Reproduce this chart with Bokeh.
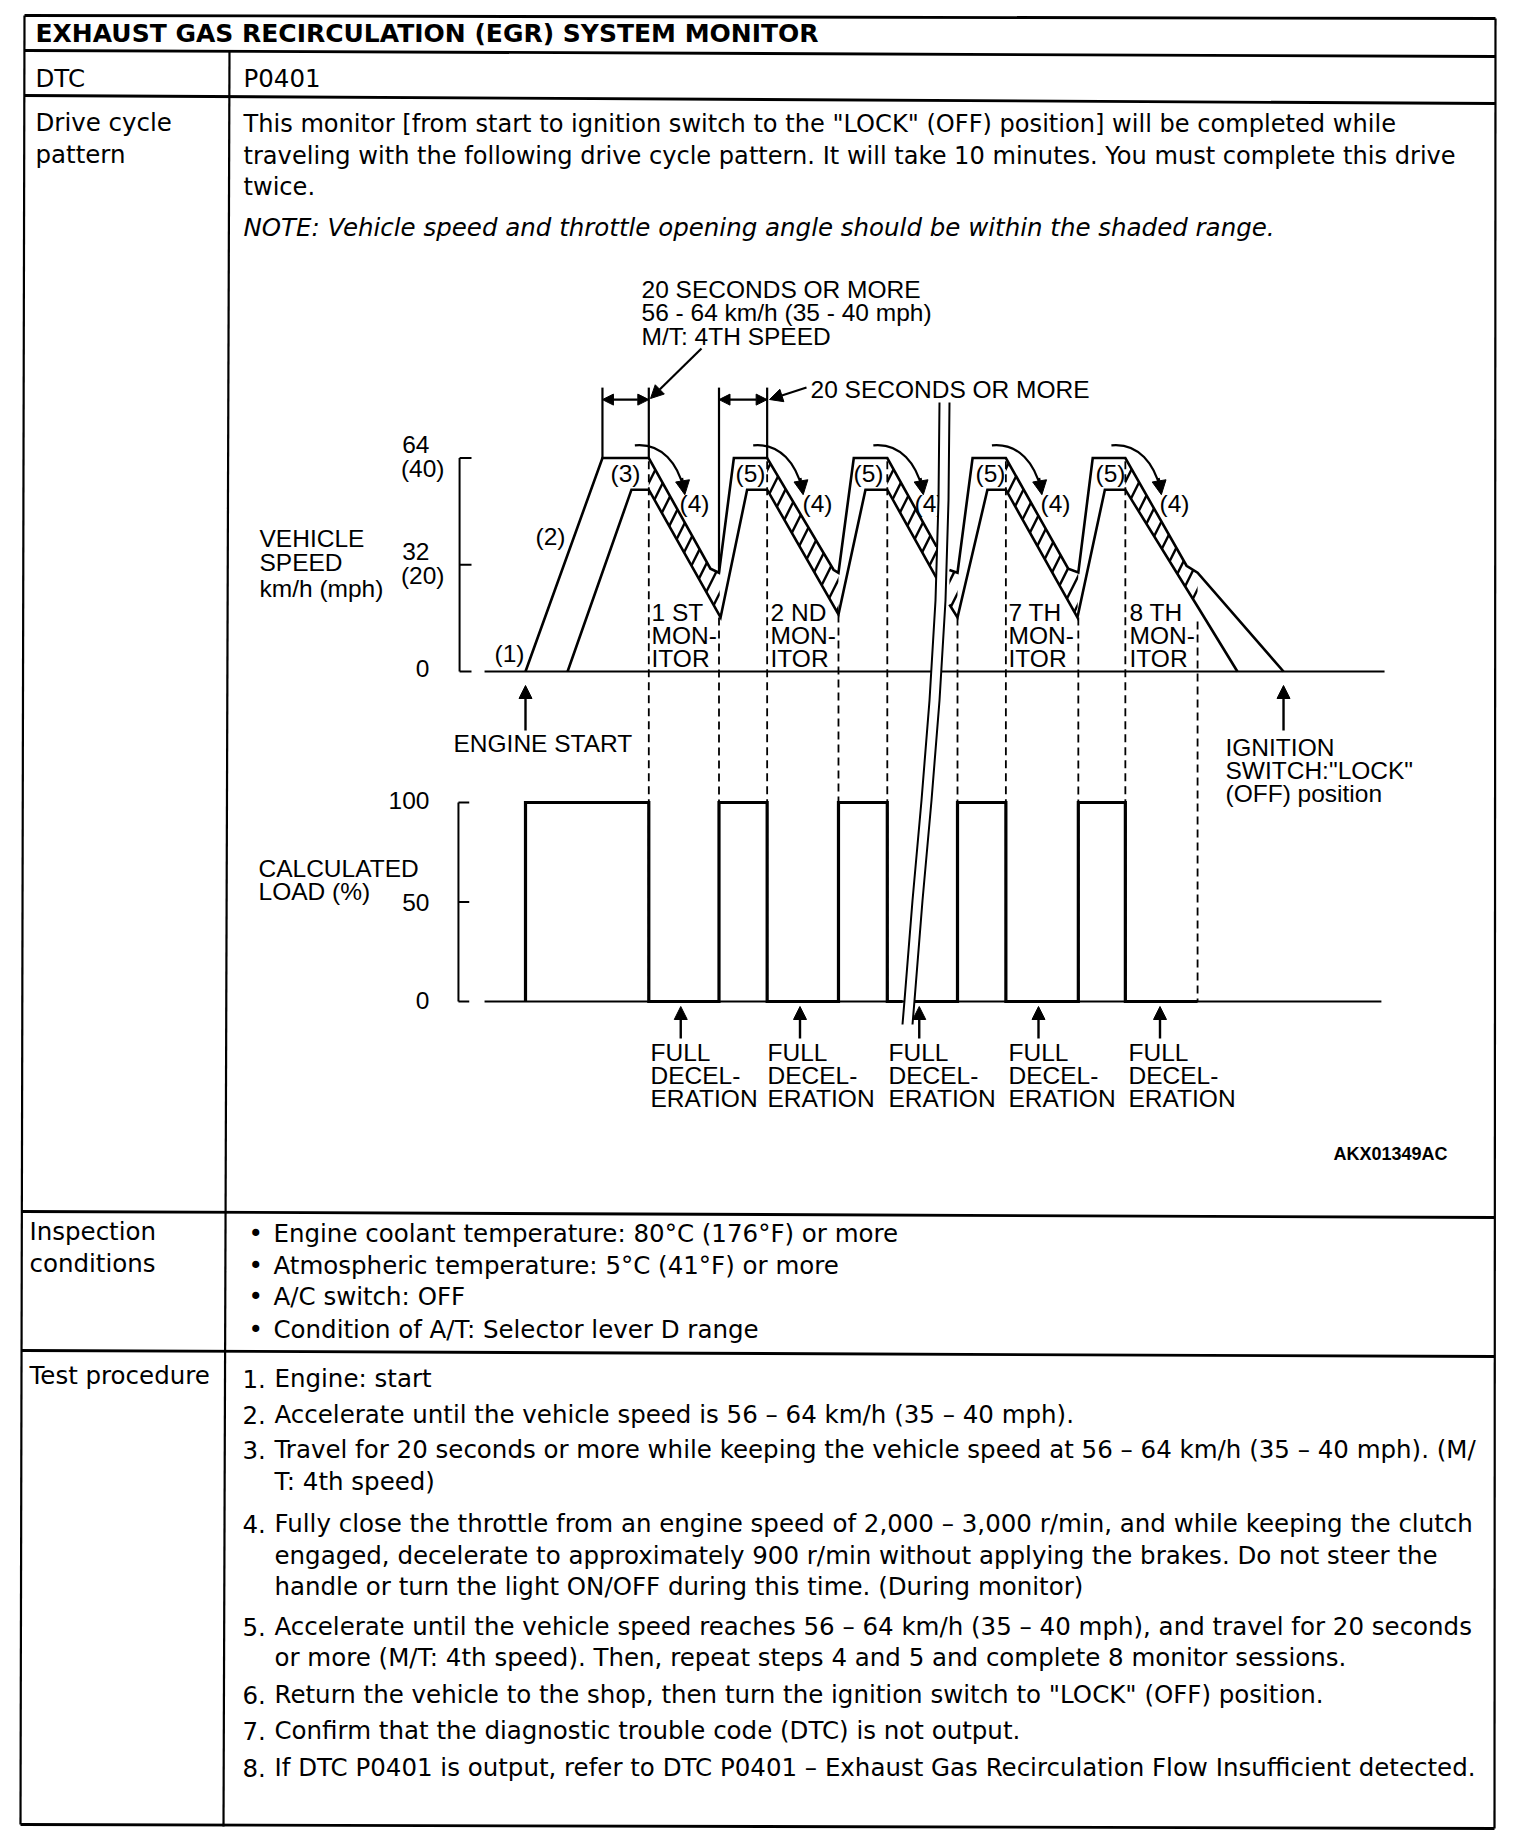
import math
from bokeh.plotting import figure
from bokeh.models import Range1d, ColumnDataSource, Arrow, NormalHead
from bokeh.embed import file_html
from bokeh.resources import INLINE
from bokeh.core.properties import value

NaN = float("nan")

# ---------------------------------------------------------------- data
# schematic drive-cycle time (s); NaN marks the chart break (cycles 4-6 omitted)
FAST_T   = [0, 34.2, 54.8, 82.2, 86.0, 92.6, 107.4, 136.9, 139.1, 145.9, 160.8, 182.7, NaN,
            188.4, 192.0, 198.7, 213.5, 241.2, 245.7, 252.1, 266.6, 293.8, 298.7, 336.9]
FAST_KMH = [0, 64, 64, 30.8, 29.6, 64, 64, 30.5, 29.6, 64, 64, 37.4, NaN,
            30.4, 29.6, 64, 64, 30.8, 29.7, 64, 64, 31.7, 29.6, 0]
SLOW_T   = [18.7, 47.1, 54.8, 86.7, 98.5, 107.4, 139.1, 151.1, 160.8, 182.7, NaN,
            188.4, 192.0, 205.3, 213.5, 245.3, 257.5, 266.6, 298.7, 316.4]
SLOW_KMH = [0, 54.5, 54.5, 16.2, 54.5, 54.5, 17.1, 54.5, 54.5, 28.0, NaN,
            20.1, 16.2, 54.5, 54.5, 16.2, 54.5, 54.5, 19.5, 0]
LOAD_T   = [0, 0, 54.8, 54.8, 86.0, 86.0, 107.4, 107.4, 139.1, 139.1, 160.8, 160.8, 167.6, NaN,
            172.0, 192.0, 192.0, 213.5, 213.5, 245.7, 245.7, 266.6, 266.6, 298.7]
LOAD_PCT = [0, 100, 100, 0, 0, 100, 100, 0, 0, 100, 100, 0, 0, NaN,
            0, 0, 100, 100, 0, 0, 100, 100, 0, 0]
DECEL_WINDOWS_T = [(54.8, 86.7), (107.4, 139.1), (160.8, 182.7), (188.4, 192.0),
                   (213.5, 245.7), (266.6, 298.7)]
MONITOR_EDGES_T = [54.8, 86.0, 107.4, 139.1, 160.8, 192.0, 213.5, 245.7, 266.6, 298.7]
MONITOR_EDGE_TOP_KMH = [63, 16.2, 63, 17.1, 63, 16.2, 63, 16.2, 63, 15.0]
PLATEAU_END_T = [54.8, 107.4, 160.8, 213.5, 266.6]
FULL_DECEL_T = [69, 122, 175, 228, 282]
ENGINE_START_T = 0
IGNITION_OFF_T = 336.9
HOLD_BRACKETS_T = [(34.2, 54.8), (86.0, 107.4)]
HOLD_BRACKET_LOW_KMH = [(64, 64), (29.6, 64)]
SPEED_TICKS = [0, 32, 64]
SPEED_TICK_LABELS = ["0", "32", "64"]
MPH_TICKS_KMH = [32, 64]
MPH_TICK_LABELS = ["(20)", "(40)"]
LOAD_TICKS = [0, 50, 100]
LOAD_TICK_LABELS = ["0", "50", "100"]
MONITOR_NAMES = ["1 ST", "2 ND", "7 TH", "8 TH"]
STEP_LABELS = ["(1)", "(2)", "(3)", "(4)", "(4)", "(4)", "(4)", "(4)", "(5)", "(5)", "(5)", "(5)"]

TITLE = "EXHAUST GAS RECIRCULATION (EGR) SYSTEM MONITOR"
DRIVE_TEXT = [
    "This monitor [from start to ignition switch to the \"LOCK\" (OFF) position] will be completed while",
    "traveling with the following drive cycle pattern. It will take 10 minutes. You must complete this drive",
    "twice.",
]
NOTE = "NOTE: Vehicle speed and throttle opening angle should be within the shaded range."
INSPECTION = [
    "Engine coolant temperature: 80\u00b0C (176\u00b0F) or more",
    "Atmospheric temperature: 5\u00b0C (41\u00b0F) or more",
    "A/C switch: OFF",
    "Condition of A/T: Selector lever D range",
]
PROCEDURE = [
    ("1.", "Engine: start"),
    ("2.", "Accelerate until the vehicle speed is 56 \u2013 64 km/h (35 \u2013 40 mph)."),
    ("3.", "Travel for 20 seconds or more while keeping the vehicle speed at 56 \u2013 64 km/h (35 \u2013 40 mph). (M/"),
    ("", "T: 4th speed)"),
    ("4.", "Fully close the throttle from an engine speed of 2,000 \u2013 3,000 r/min, and while keeping the clutch"),
    ("", "engaged, decelerate to approximately 900 r/min without applying the brakes. Do not steer the"),
    ("", "handle or turn the light ON/OFF during this time. (During monitor)"),
    ("5.", "Accelerate until the vehicle speed reaches 56 \u2013 64 km/h (35 \u2013 40 mph), and travel for 20 seconds"),
    ("", "or more (M/T: 4th speed). Then, repeat steps 4 and 5 and complete 8 monitor sessions."),
    ("6.", "Return the vehicle to the shop, then turn the ignition switch to \"LOCK\" (OFF) position."),
    ("7.", "Confirm that the diagnostic trouble code (DTC) is not output."),
    ("8.", "If DTC P0401 is output, refer to DTC P0401 \u2013 Exhaust Gas Recirculation Flow Insufficient detected."),
]

# ---------------------------------------------------------------- layout
FX0, FX1, FY0, FY1 = 0, 1520, 0, 1842          # page pixels covered by the frame
T_X0, T_PX = 525.0, 2.25                        # page x of t=0, px per second
V_Y0, V_PX = 671.0, 3.336                       # page y of 0 km/h, px per km/h
L_Y0, L_PX = 1001.0, 1.99                       # page y of 0 %, px per %
KMH_AT_LOAD_ZERO = (V_Y0 - L_Y0) / V_PX
BRACKET_TOP_KMH = 85.1
BRACKET_ARROW_KMH = 81.5

BODY_FONT = "DejaVu Sans"
FIG_FONT = "Liberation Sans"
BODY_FS = "24.5px"
FS = "24.5px"

p = figure(width=FX1 - FX0, height=FY1 - FY0,
           x_range=Range1d(FX0, FX1), y_range=Range1d(FY1, FY0),
           x_axis_type=None, y_axis_type=None, output_backend="svg",
           toolbar_location=None, tools="", min_border=0,
           outline_line_color=None, background_fill_color="white",
           border_fill_color="white")
p.extra_x_ranges = {"t": Range1d((FX0 - T_X0) / T_PX, (FX1 - T_X0) / T_PX)}
p.extra_y_ranges = {"spd": Range1d((V_Y0 - FY1) / V_PX, (V_Y0 - FY0) / V_PX),
                    "load": Range1d((L_Y0 - FY1) / L_PX, (L_Y0 - FY0) / L_PX)}
TV = dict(x_range_name="t", y_range_name="spd")
TL = dict(x_range_name="t", y_range_name="load")


def put_text(xs, ys, texts, font=BODY_FONT, size=BODY_FS, style="normal",
             align="left", xr="default", yr="default", y_offset=0):
    n = len(texts)
    offs = list(y_offset) if isinstance(y_offset, (list, tuple)) else [y_offset] * n
    src = ColumnDataSource(dict(x=list(xs), y=list(ys), text=list(texts), yo=offs))
    p.text("x", "y", "text", source=src, text_font=value(font),
           text_font_size=value(size), text_font_style=style,
           text_align=align, text_baseline="middle", text_color="black",
           x_range_name=xr, y_range_name=yr, y_offset="yo")


# ---------------------------------------------------------------- table frame
H_LINES = [((24, 15), (1495, 18)), ((24, 50), (1495, 56)), ((24, 95), (1495, 103)),
           ((21, 1211), (1494, 1217)), ((21, 1350), (1494, 1356)), ((20, 1824), (1494, 1828))]
V_LINES = [((24, 15), (20, 1824)), ((1495, 18), (1494, 1828)), ((229, 50), (223, 1826))]
p.segment([a[0] for a, b in H_LINES], [a[1] for a, b in H_LINES],
          [b[0] for a, b in H_LINES], [b[1] for a, b in H_LINES],
          line_color="black", line_width=2.8)
p.segment([a[0] for a, b in V_LINES], [a[1] for a, b in V_LINES],
          [b[0] for a, b in V_LINES], [b[1] for a, b in V_LINES],
          line_color="black", line_width=2.2)

# ---------------------------------------------------------------- table text
put_text([35], [33], [TITLE], style="bold", size="25px")
put_text([35, 243], [78, 78], ["DTC", "P0401"])
put_text([35, 35], [122, 154], ["Drive cycle", "pattern"])
put_text([243] * 3, [123, 155, 186], DRIVE_TEXT, size="24.1px")
put_text([243], [227], [NOTE], style="italic")
put_text([29, 29], [1231, 1263], ["Inspection", "conditions"])
INSP_Y = [1233, 1265, 1296, 1329]
put_text([248] * 4, INSP_Y, ["\u2022"] * 4)
put_text([273] * 4, INSP_Y, INSPECTION)
put_text([29], [1375], ["Test procedure"])
PROC_Y = [1378, 1414, 1449, 1481, 1523, 1555, 1586, 1626, 1657, 1694, 1730, 1767]
put_text([242] * len(PROC_Y), PROC_Y, [n for n, s in PROCEDURE])
put_text([242 + 32] * len(PROC_Y), PROC_Y, [s for n, s in PROCEDURE])

# ---------------------------------------------------------------- speed chart
p.segment([-29.3], [0], [-29.3], [64], line_color="black", line_width=2, **TV)
p.segment([-29.3] * 3, SPEED_TICKS, [-24.0] * 3, SPEED_TICKS, line_color="black", line_width=2, **TV)
p.line([-18.2, 381.8], [0, 0], line_color="black", line_width=2, **TV)


def window_pts(T, V, a, b):
    return [(t, v) for t, v in zip(T, V) if not math.isnan(t) and a - 1e-6 <= t <= b + 1e-6]


hx, hy = [], []
for a, b in DECEL_WINDOWS_T:
    pts = window_pts(FAST_T, FAST_KMH, a, b) + window_pts(SLOW_T, SLOW_KMH, a, b)[::-1]
    hx.append([q[0] for q in pts])
    hy.append([q[1] for q in pts])
p.patches(hx, hy, fill_color=None, line_color=None, hatch_pattern="/",
          hatch_color="black", hatch_scale=28, hatch_weight=2.4, **TV)

p.segment(MONITOR_EDGES_T, MONITOR_EDGE_TOP_KMH, MONITOR_EDGES_T,
          [KMH_AT_LOAD_ZERO] * len(MONITOR_EDGES_T),
          line_color="black", line_width=1.8, line_dash="8 5", **TV)

p.line(FAST_T, FAST_KMH, line_color="black", line_width=2.6, line_join="miter", **TV)
p.line(SLOW_T, SLOW_KMH, line_color="black", line_width=2.6, line_join="miter", **TV)

bx, by0, by1 = [], [], []
for (a, b), (la, lb) in zip(HOLD_BRACKETS_T, HOLD_BRACKET_LOW_KMH):
    bx += [a, b]; by0 += [la, lb]; by1 += [BRACKET_TOP_KMH] * 2
p.segment(bx, by0, bx, by1, line_color="black", line_width=2.2, **TV)
hold_src = ColumnDataSource(dict(x0=[a for a, b in HOLD_BRACKETS_T], x1=[b for a, b in HOLD_BRACKETS_T],
                                 y=[BRACKET_ARROW_KMH] * len(HOLD_BRACKETS_T)))
p.add_layout(Arrow(start=NormalHead(size=11, fill_color="black", line_color="black"),
                   end=NormalHead(size=11, fill_color="black", line_color="black"),
                   x_start="x0", y_start="y", x_end="x1", y_end="y", source=hold_src,
                   line_width=2.2, **TV))

p.bezier(x0=[t - 6.2 for t in PLATEAU_END_T], y0=[67.8] * 5,
         x1=[t + 15.6 for t in PLATEAU_END_T], y1=[54.6] * 5,
         cx0=[t + 6.0 for t in PLATEAU_END_T], cy0=[68.6] * 5,
         cx1=[t + 13.0 for t in PLATEAU_END_T], cy1=[62.0] * 5,
         line_color="black", line_width=2.2, **TV)
ca_src = ColumnDataSource(dict(xs=[t + 14.8 for t in PLATEAU_END_T], ys=[58.0] * 5,
                               xe=[t + 16.0 for t in PLATEAU_END_T], ye=[53.0] * 5))
p.add_layout(Arrow(end=NormalHead(size=14, fill_color="black", line_color="black"),
                   x_start="xs", y_start="ys", x_end="xe", y_end="ye", source=ca_src,
                   line_width=2.2, **TV))

# ---------------------------------------------------------------- load chart
p.segment([-29.8], [0], [-29.8], [100], line_color="black", line_width=2, **TL)
p.segment([-29.8] * 3, LOAD_TICKS, [-25.0] * 3, LOAD_TICKS, line_color="black", line_width=2, **TL)
p.line([-18.2, 380.4], [0, 0], line_color="black", line_width=1.8, **TL)
p.line(LOAD_T, LOAD_PCT, line_color="black", line_width=3.2, line_join="miter", **TL)

# ---------------------------------------------------------------- diagram labels
put_text([641] * 3, [289, 312, 336],
         ["20 SECONDS OR MORE", "56 - 64 km/h (35 - 40 mph)", "M/T: 4TH SPEED"], font=FIG_FONT, size=FS)
put_text([810], [389], ["20 SECONDS OR MORE"], font=FIG_FONT, size=FS)
put_text([429] * 3, SPEED_TICKS, SPEED_TICK_LABELS, font=FIG_FONT, size=FS, align="right",
         yr="spd", y_offset=[-3, -13, -13])
put_text([444] * 2, MPH_TICKS_KMH, MPH_TICK_LABELS, font=FIG_FONT, size=FS, align="right",
         yr="spd", y_offset=11)
put_text([259] * 3, [538, 562, 588], ["VEHICLE", "SPEED", "km/h (mph)"], font=FIG_FONT, size=FS)
put_text([429] * 3, LOAD_TICKS, LOAD_TICK_LABELS, font=FIG_FONT, size=FS, align="right", yr="load",
         y_offset=[-1, 0, -2])
put_text([258, 258], [868, 891], ["CALCULATED", "LOAD (%)"], font=FIG_FONT, size=FS)
put_text([453], [743], ["ENGINE START"], font=FIG_FONT, size=FS)
put_text([1225] * 3, [747, 770, 793], ["IGNITION", "SWITCH:\"LOCK\"", "(OFF) position"], font=FIG_FONT, size=FS)
STEP_X = [509, 550, 625, 694, 817, 929, 1055, 1174, 750, 868, 990, 1110]
STEP_Y = [653, 536, 473, 503, 503, 503, 503, 503, 473, 473, 473, 473]
put_text(STEP_X, STEP_Y, STEP_LABELS, font=FIG_FONT, size=FS, align="center")
MON_X = [651, 770, 1008, 1129]
for name, x in zip(MONITOR_NAMES, MON_X):
    put_text([x] * 3, [612, 635, 658], [name, "MON-", "ITOR"], font=FIG_FONT, size=FS)
FD_X = [650, 767, 888, 1008, 1128]
for x in FD_X:
    put_text([x] * 3, [1052, 1075, 1098], ["FULL", "DECEL-", "ERATION"], font=FIG_FONT, size=FS)
put_text([1447], [1153], ["AKX01349AC"], font=FIG_FONT, size="18px", style="bold", align="right")

# chart break (white gap between two curved lines)
BREAK_L = [(939, 402), (938, 500), (935, 600), (929, 700), (921, 800), (912, 900), (904, 1000), (902, 1024)]
BREAK_R = [(949, 402), (948, 500), (945, 600), (939, 700), (931, 800), (922, 900), (914, 1000), (912, 1024)]
p.patch([q[0] for q in BREAK_L] + [q[0] for q in BREAK_R[::-1]],
        [q[1] for q in BREAK_L] + [q[1] for q in BREAK_R[::-1]],
        fill_color="white", line_color=None)
p.multi_line([[q[0] for q in BREAK_L], [q[0] for q in BREAK_R]],
             [[q[1] for q in BREAK_L], [q[1] for q in BREAK_R]],
             line_color="black", line_width=2)

head = dict(size=13, fill_color="black", line_color="black")
up_src = ColumnDataSource(dict(x=[ENGINE_START_T, IGNITION_OFF_T], y0=[730, 730], y1=[685, 685]))
p.add_layout(Arrow(end=NormalHead(**head), x_start="x", y_start="y0", x_end="x", y_end="y1",
                   source=up_src, line_width=2.4, x_range_name="t"))
fd_src = ColumnDataSource(dict(x=FULL_DECEL_T, y0=[1038] * 5, y1=[1006] * 5))
p.add_layout(Arrow(end=NormalHead(**head), x_start="x", y_start="y0", x_end="x", y_end="y1",
                   source=fd_src, line_width=2.4, x_range_name="t"))
lead_src = ColumnDataSource(dict(x0=[701, 806], y0=[348, 387], x1=[650, 769], y1=[398, 399]))
p.add_layout(Arrow(end=NormalHead(**head), x_start="x0", y_start="y0", x_end="x1", y_end="y1",
                   source=lead_src, line_width=2.2))

open("out.html", "w").write(file_html(p, INLINE))
